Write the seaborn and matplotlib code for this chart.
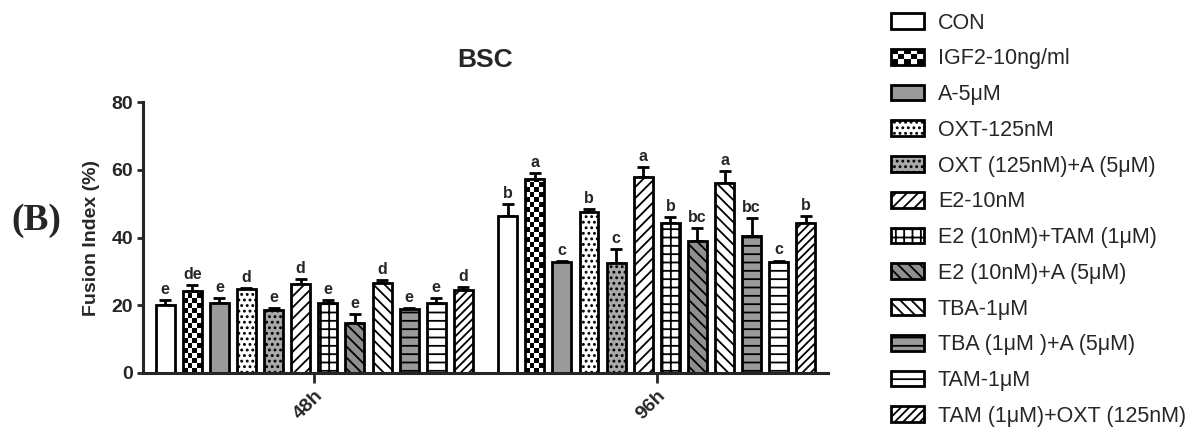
import numpy as np
import pandas as pd
import matplotlib
matplotlib.use("Agg")
import matplotlib.pyplot as plt
import seaborn as sns
from matplotlib.patches import Patch, Rectangle
from matplotlib.legend_handler import HandlerBase

# ---------------- data ----------------
times = ["48h", "96h"]
treatments = [
    "CON", "IGF2-10ng/ml", "A-5μM", "OXT-125nM", "OXT (125nM)+A (5μM)",
    "E2-10nM", "E2 (10nM)+TAM (1μM)", "E2 (10nM)+A (5μM)", "TBA-1μM",
    "TBA (1μM )+A (5μM)", "TAM-1μM", "TAM (1μM)+OXT (125nM)",
]
mean_48h = [20.0, 24.2, 20.6, 24.8, 18.6, 26.3, 20.6, 14.7, 26.5, 18.8, 20.6, 24.5]
err_48h = [1.5, 1.8, 1.5, 0.4, 0.5, 1.4, 1.0, 2.6, 0.9, 0.5, 1.5, 1.0]
mean_96h = [46.3, 57.3, 32.8, 47.6, 32.4, 57.9, 44.3, 39.0, 56.2, 40.5, 32.8, 44.3]
err_96h = [3.7, 1.6, 0.3, 0.8, 4.2, 3.0, 1.8, 3.9, 3.4, 5.3, 0.4, 2.0]
letters_48h = ["e", "de", "e", "d", "e", "d", "e", "e", "d", "e", "e", "d"]
letters_96h = ["b", "a", "c", "b", "c", "a", "b", "bc", "a", "bc", "c", "b"]

# ---------------- styles ----------------
face_colors = ["white", "white", "#9a9a9a", "white", "#a9a9a9", "white",
               "white", "#8f8f8f", "white", "#9a9a9a", "white", "white"]
hatches = [None, "checker", None, "...", "...", "///", "++", "\\\\\\", "\\\\\\",
           "--", "--", "////"]
hatch_colors = [None, None, None, "#777777", "#555555", None, None, None, None,
                None, None, None]

df = pd.DataFrame({
    "time": np.repeat(times, len(treatments)),
    "treatment": treatments * len(times),
    "value": mean_48h + mean_96h,
})
errs = [err_48h, err_96h]
letters = [letters_48h, letters_96h]

sns.set_style("ticks")
plt.rcParams["font.family"] = ["Liberation Sans", "DejaVu Sans"]
plt.rcParams["hatch.linewidth"] = 1.3


def apply_hatch(p, i):
    h = hatches[i]
    if h and h != "checker":
        p.set_hatch(h)
        if hatch_colors[i] and hasattr(p, "set_hatchcolor"):
            try:
                p.set_hatchcolor(hatch_colors[i])
            except Exception:
                pass


fig = plt.figure(figsize=(12.03, 4.33), dpi=100)
ax = fig.add_axes([0.1189, 0.1386, 0.5694, 0.6258])

sns.barplot(data=df, x="time", y="value", hue="treatment", order=times,
            hue_order=treatments, palette=dict(zip(treatments, face_colors)),
            saturation=1, width=0.95, gap=0.3, edgecolor="black", linewidth=2,
            errorbar=None, legend=False, ax=ax)
bar_conts = list(ax.containers)

ax.set_xlim(-0.5, 1.5)
ax.set_ylim(0, 80)
ax.set_yticks([0, 20, 40, 60, 80])

for i, cont in enumerate(bar_conts):
    for j, bar in enumerate(cont):
        apply_hatch(bar, i)
        cx = bar.get_x() + bar.get_width() / 2
        top = bar.get_height()
        e = errs[j][i]
        ax.errorbar(cx, top, yerr=[[0], [e]], color="black", capsize=4,
                    elinewidth=2, capthick=2, zorder=bar.get_zorder() - 0.1)
        ax.text(cx, top + e + 0.9, letters[j][i], ha="center", va="bottom",
                fontsize=11.5, fontweight="bold")

# checkerboard texture for IGF2 bars, clipped to the seaborn bars
px_per_y = ax.transData.transform((0, 1))[1] - ax.transData.transform((0, 0))[1]
cell_h = 5.0 / px_per_y
for bar in bar_conts[1]:
    x0, w, hgt = bar.get_x(), bar.get_width(), bar.get_height()
    nrows = int(np.ceil(hgt / cell_h))
    arr = np.add.outer(np.arange(nrows), np.arange(4)) % 2
    im = ax.imshow(arr, extent=(x0, x0 + w, 0, nrows * cell_h), origin="lower",
                   cmap="gray", vmin=0, vmax=1, interpolation="nearest",
                   aspect="auto", zorder=bar.get_zorder() - 0.05)
    im.set_clip_path(bar)
    bar.set_facecolor("none")
ax.set_xlim(-0.5, 1.5)
ax.set_ylim(0, 80)

sns.despine(ax=ax)
for s in ["left", "bottom"]:
    ax.spines[s].set_linewidth(2.2)
ax.tick_params(axis="y", length=4, width=2, labelsize=14, pad=3)
ax.tick_params(axis="x", length=7, width=2, labelsize=14, pad=3)
for t in ax.get_yticklabels():
    t.set_fontweight("bold")
for t in ax.get_xticklabels():
    t.set_fontweight("bold")
    t.set_rotation(45)
    t.set_ha("right")
    t.set_rotation_mode("anchor")
ax.set_xlabel("")
ax.set_ylabel("Fusion Index (%)", fontsize=14, fontweight="bold")
ax.yaxis.set_label_coords(-0.063, 0.5)
ax.set_title("BSC", fontsize=19, fontweight="bold", pad=25)

fig.text(0.03, 0.49, "(B)", family=["Liberation Serif", "DejaVu Serif"],
         fontsize=27, fontweight="bold", ha="center", va="center")


class CheckerHandler(HandlerBase):
    def create_artists(self, legend, orig_handle, xdescent, ydescent, width,
                       height, fontsize, trans):
        arts = []
        nx, ny = 5, 3
        x0, y0 = -xdescent, -ydescent
        for r in range(ny):
            for c in range(nx):
                if (r + c) % 2 == 0:
                    arts.append(Rectangle((x0 + c * width / nx, y0 + r * height / ny),
                                          width / nx, height / ny, facecolor="black",
                                          edgecolor="none", transform=trans))
        arts.append(Rectangle((x0, y0), width, height, facecolor="none",
                              edgecolor="black", linewidth=2, transform=trans))
        return arts


handles = []
for i, name in enumerate(treatments):
    p = Patch(facecolor=face_colors[i], edgecolor="black", linewidth=2)
    apply_hatch(p, i)
    handles.append(p)
fig.legend(handles, treatments, loc="upper left", bbox_to_anchor=(0.7407, 0.971),
           bbox_transform=fig.transFigure, frameon=False, fontsize=15.5,
           handlelength=1.53, handleheight=0.74, labelspacing=0.685,
           handletextpad=0.65, borderpad=0, borderaxespad=0,
           handler_map={handles[1]: CheckerHandler()})

fig.savefig("out.png", dpi=100)
